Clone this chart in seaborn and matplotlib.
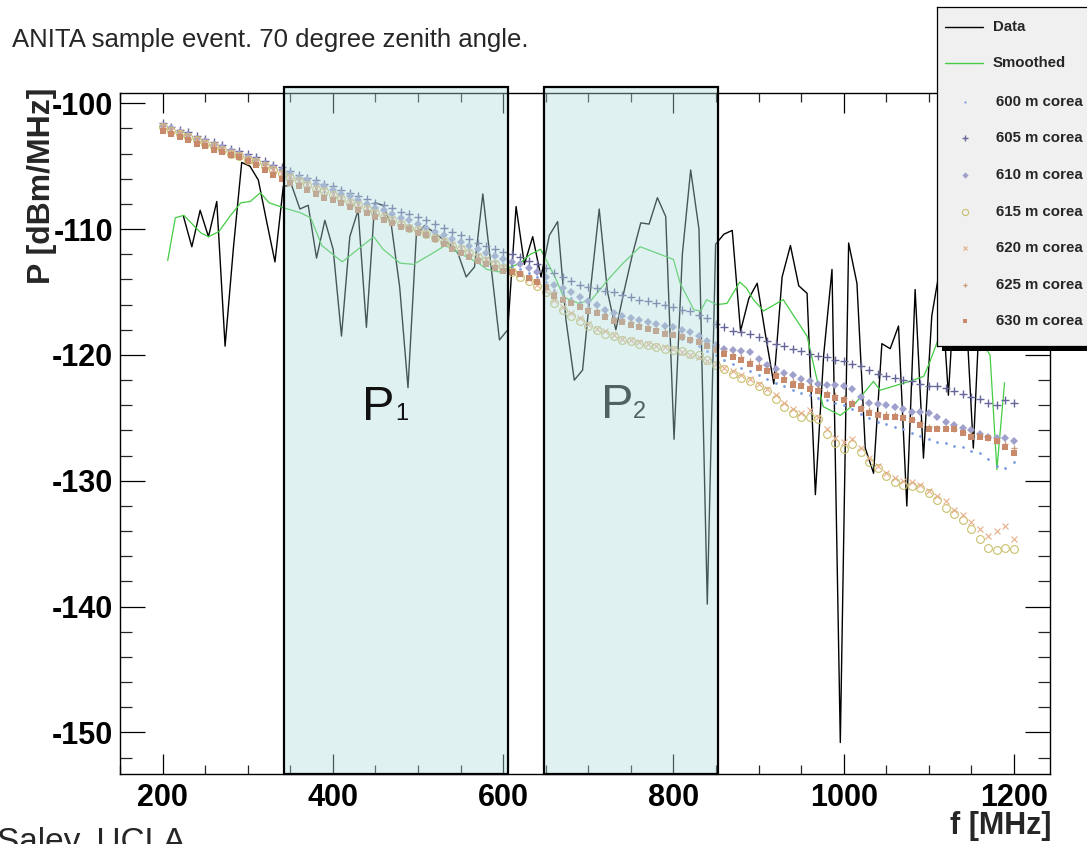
import numpy as np
import pandas as pd
import matplotlib
matplotlib.use("Agg")
import matplotlib.pyplot as plt
import seaborn as sns
from matplotlib.patches import Rectangle

# ---------------- data ----------------
title = "ANITA sample event. 70 degree zenith angle."
credit = "Saley, UCLA"
x_label = "f [MHz]"
y_label = "P [dBm/MHz]"

# measured spectrum: FFT bins (bin index * bin width)
bin_width = 9.765625
data_bins = np.arange(23, 123)
data_power = [
    -109.0, -111.4, -108.5, -110.6, -107.8, -119.3, -111.5, -104.7, -105.0, -106.1,
    -109.4, -112.6, -106.6, -106.5, -108.4, -108.1, -112.3, -109.3, -111.6, -118.5,
    -110.6, -108.5, -117.8, -107.9, -108.1, -109.7, -114.6, -122.6, -110.5, -109.7,
    -110.2, -110.7, -111.2, -111.9, -113.8, -113.0, -107.2, -113.0, -118.8, -118.0,
    -108.2, -112.8, -110.6, -113.8, -110.5, -109.4, -117.2, -122.0, -121.2, -114.5,
    -108.4, -115.0, -118.0, -114.9, -112.0, -109.5, -109.6, -107.5, -109.0, -126.7,
    -112.0, -105.3, -110.0, -139.8, -111.2, -110.4, -110.1, -118.1, -115.5, -114.3,
    -118.4, -122.3, -113.8, -111.3, -114.5, -115.1, -131.1, -120.0, -113.2, -150.8,
    -111.1, -114.3, -127.4, -129.4, -119.1, -119.5, -117.7, -132.0, -114.8, -128.2,
    -116.9, -113.0, -123.2, -112.0, -115.0, -127.4, -113.0, -118.0, -112.0, -119.0,
]

smooth_freq = [206, 215, 225, 245, 254, 266, 280, 292, 303, 315, 325, 342, 362, 374, 387,
               411, 424, 448, 459, 479, 495, 515, 532, 571, 581, 595, 620, 632, 644, 661,
               671, 689, 704, 726, 741, 761, 800, 808, 824, 832, 839, 851, 863, 878, 886,
               894, 906, 929, 957, 976, 996, 1013, 1035, 1043, 1082, 1094, 1101, 1113, 1137,
               1160, 1172, 1180, 1189]
smooth_power = [-112.5, -109.1, -108.9, -110.3, -110.6, -110.2, -108.9, -107.9, -107.8, -107.1,
                -107.9, -108.3, -108.7, -109.1, -111.3, -112.6, -111.9, -110.6, -111.6, -112.7,
                -112.8, -112.0, -111.3, -112.7, -113.2, -113.4, -112.7, -112.0, -111.6, -113.8,
                -115.4, -115.9, -115.6, -113.8, -112.7, -111.4, -112.4, -114.3, -116.4, -116.5,
                -115.6, -116.0, -115.9, -114.2, -114.7, -115.6, -116.5, -115.6, -118.5, -124.1,
                -124.8, -123.9, -122.1, -122.8, -122.0, -121.7, -120.6, -118.4, -118.0, -118.8,
                -120.0, -129.1, -122.2]

sim_freq = np.arange(200, 1201, 10)

sim_600 = [
    -101.9, -102.2, -102.4, -102.7, -102.9, -103.2, -103.4, -103.7, -103.9, -104.2,
    -104.4, -104.7, -105.0, -105.3, -105.6, -105.9, -106.2, -106.4, -106.7, -107.0,
    -107.2, -107.5, -107.8, -108.0, -108.3, -108.6, -108.9, -109.1, -109.4, -109.7,
    -110.0, -110.2, -110.5, -110.8, -111.1, -111.4, -111.7, -112.0, -112.3, -112.6,
    -112.8, -113.0, -113.2, -113.5, -113.8, -114.2, -114.8, -115.1, -115.5, -115.8,
    -116.1, -116.4, -116.7, -117.0, -117.2, -117.4, -117.6, -117.8, -118.0, -118.2,
    -118.4, -118.7, -119.0, -119.3, -119.7, -120.0, -120.4, -120.7, -121.0, -121.3,
    -121.6, -121.9, -122.2, -122.5, -122.8, -123.0, -123.2, -123.4, -123.6, -123.8,
    -124.0, -124.3, -124.7, -125.0, -125.3, -125.5, -125.7, -125.9, -126.2, -126.4,
    -126.7, -126.9, -127.0, -127.2, -127.3, -127.6, -127.8, -128.3, -128.8, -129.0, -128.5]

sim_605 = [
    -101.6, -101.9, -102.1, -102.3, -102.6, -102.8, -103.1, -103.3, -103.6, -103.8,
    -104.0, -104.3, -104.6, -104.9, -105.1, -105.4, -105.7, -105.9, -106.1, -106.4,
    -106.6, -106.9, -107.1, -107.4, -107.6, -107.9, -108.1, -108.3, -108.6, -108.8,
    -109.0, -109.3, -109.6, -109.9, -110.2, -110.5, -110.8, -111.1, -111.3, -111.6,
    -111.8, -112.0, -112.2, -112.5, -112.8, -113.1, -113.5, -113.8, -114.1, -114.4,
    -114.6, -114.7, -114.9, -115.0, -115.2, -115.4, -115.6, -115.7, -115.9, -116.0,
    -116.2, -116.4, -116.5, -116.8, -117.1, -117.5, -117.8, -118.1, -118.2, -118.3,
    -118.6, -118.9, -119.1, -119.3, -119.5, -119.7, -119.9, -120.1, -120.2, -120.4,
    -120.5, -120.7, -120.9, -121.2, -121.5, -121.7, -121.8, -122.0, -122.1, -122.3,
    -122.5, -122.5, -122.6, -122.9, -123.1, -123.3, -123.5, -123.8, -124.0, -123.6, -123.8]

sim_610 = [
    -101.8, -102.0, -102.3, -102.5, -102.8, -103.0, -103.3, -103.5, -103.8, -104.0,
    -104.3, -104.5, -104.8, -105.1, -105.3, -105.6, -105.9, -106.1, -106.4, -106.6,
    -106.9, -107.2, -107.4, -107.7, -108.0, -108.3, -108.5, -108.8, -109.1, -109.3,
    -109.6, -109.9, -110.2, -110.5, -110.8, -111.0, -111.3, -111.6, -111.9, -112.1,
    -112.4, -112.6, -112.8, -113.1, -113.4, -113.8, -114.4, -114.7, -115.0, -115.4,
    -115.7, -116.0, -116.4, -116.7, -116.9, -117.1, -117.2, -117.4, -117.5, -117.7,
    -117.8, -118.0, -118.2, -118.5, -118.9, -119.2, -119.5, -119.6, -119.7, -119.8,
    -120.3, -120.8, -121.1, -121.4, -121.6, -121.9, -122.1, -122.3, -122.4, -122.4,
    -122.5, -122.7, -123.3, -123.8, -123.9, -124.0, -124.1, -124.3, -124.5, -124.5,
    -124.6, -124.9, -125.3, -125.6, -125.8, -126.0, -126.3, -126.5, -126.6, -126.6, -126.8]

sim_615 = [
    -101.9, -102.2, -102.4, -102.7, -102.9, -103.2, -103.4, -103.7, -104.0, -104.2,
    -104.5, -104.7, -105.0, -105.3, -105.6, -105.9, -106.2, -106.5, -106.8, -107.0,
    -107.3, -107.6, -107.9, -108.1, -108.4, -108.7, -109.0, -109.3, -109.6, -109.9,
    -110.1, -110.4, -110.7, -111.0, -111.3, -111.6, -111.9, -112.2, -112.5, -112.8,
    -113.1, -113.4, -113.8, -114.1, -114.5, -115.0, -115.9, -116.4, -116.9, -117.3,
    -117.7, -118.0, -118.3, -118.5, -118.8, -118.9, -119.1, -119.2, -119.4, -119.5,
    -119.6, -119.7, -119.9, -120.0, -120.4, -120.8, -121.1, -121.5, -121.8, -122.1,
    -122.5, -122.9, -123.5, -124.1, -124.6, -124.9, -124.9, -125.1, -126.3, -127.0,
    -127.5, -127.1, -127.7, -128.5, -129.0, -129.6, -130.1, -130.3, -130.4, -130.6,
    -131.0, -131.5, -132.2, -132.6, -133.1, -133.8, -134.6, -135.3, -135.5, -135.3, -135.4]

sim_620 = [
    -101.8, -102.1, -102.3, -102.6, -102.8, -103.1, -103.3, -103.6, -103.9, -104.1,
    -104.4, -104.6, -104.9, -105.2, -105.5, -105.8, -106.1, -106.4, -106.7, -106.9,
    -107.2, -107.5, -107.8, -108.0, -108.3, -108.6, -108.9, -109.2, -109.5, -109.8,
    -110.0, -110.3, -110.6, -110.9, -111.2, -111.5, -111.8, -112.1, -112.4, -112.7,
    -113.0, -113.3, -113.6, -114.0, -114.4, -114.9, -115.6, -116.2, -116.7, -117.1,
    -117.5, -117.9, -118.1, -118.4, -118.7, -118.8, -119.0, -119.1, -119.3, -119.4,
    -119.5, -119.8, -120.0, -120.2, -120.5, -120.7, -121.0, -121.3, -121.6, -121.9,
    -122.3, -122.7, -123.2, -123.8, -124.3, -124.6, -124.4, -124.9, -125.9, -126.6,
    -126.9, -126.7, -127.4, -128.2, -128.8, -129.4, -129.8, -130.0, -130.1, -130.3,
    -130.8, -131.2, -131.6, -132.3, -132.7, -133.3, -133.8, -134.4, -134.0, -133.6, -134.6]

sim_625 = [
    -102.0, -102.3, -102.5, -102.8, -103.0, -103.3, -103.5, -103.8, -104.0, -104.2,
    -104.5, -104.8, -105.1, -105.5, -105.8, -106.1, -106.4, -106.7, -107.0, -107.3,
    -107.5, -107.8, -108.0, -108.3, -108.6, -108.8, -109.1, -109.4, -109.6, -109.9,
    -110.1, -110.4, -110.7, -111.0, -111.4, -111.7, -112.0, -112.3, -112.6, -112.9,
    -113.1, -113.3, -113.5, -113.8, -114.1, -114.5, -115.0, -115.4, -115.7, -116.0,
    -116.3, -116.5, -116.8, -117.1, -117.3, -117.4, -117.6, -117.8, -117.9, -118.1,
    -118.3, -118.5, -118.7, -118.9, -119.2, -119.4, -119.7, -120.0, -120.2, -120.5,
    -120.8, -121.1, -121.5, -121.8, -122.1, -122.3, -122.5, -122.7, -123.0, -123.2,
    -123.4, -123.7, -124.1, -124.4, -124.6, -124.7, -124.8, -124.9, -125.1, -125.4,
    -125.7, -125.8, -125.8, -125.9, -126.1, -126.3, -126.4, -126.6, -126.8, -127.1, -127.4]

sim_630 = [
    -102.2, -102.4, -102.7, -102.9, -103.2, -103.4, -103.7, -103.9, -104.1, -104.3,
    -104.6, -104.9, -105.3, -105.7, -106.0, -106.3, -106.6, -106.9, -107.2, -107.5,
    -107.7, -107.9, -108.2, -108.5, -108.7, -109.0, -109.3, -109.5, -109.8, -110.0,
    -110.3, -110.5, -110.8, -111.2, -111.6, -111.9, -112.2, -112.5, -112.8, -113.1,
    -113.3, -113.4, -113.6, -113.9, -114.2, -114.6, -115.3, -115.6, -115.9, -116.2,
    -116.5, -116.7, -117.0, -117.3, -117.4, -117.6, -117.8, -117.9, -118.1, -118.3,
    -118.4, -118.6, -118.8, -119.0, -119.3, -119.6, -119.9, -120.2, -120.4, -120.7,
    -121.0, -121.3, -121.7, -122.0, -122.4, -122.5, -122.7, -122.9, -123.2, -123.4,
    -123.6, -123.9, -124.3, -124.6, -124.8, -124.9, -124.9, -125.0, -125.2, -125.6,
    -125.9, -125.9, -125.9, -125.9, -126.2, -126.5, -126.5, -126.6, -126.8, -127.3, -127.8]

sim_labels = ["600 m corea", "605 m corea", "610 m corea", "615 m corea",
              "620 m corea", "625 m corea", "630 m corea"]
sim_values = [sim_600, sim_605, sim_610, sim_615, sim_620, sim_625, sim_630]

band_p1 = (342.5, 605.6)
band_p2 = (647.6, 853.0)

x_ticks = [200, 400, 600, 800, 1000, 1200]
y_ticks = [-150, -140, -130, -120, -110, -100]

# ---------------- styles ----------------
sim_styles = [
    dict(marker="o", ms=2.0, mfc="#7c9ce0", mec="#7c9ce0", mew=0.0),
    dict(marker="+", ms=5.8, mfc="#66669a", mec="#66669a", mew=1.0),
    dict(marker="D", ms=4.0, mfc="#a0a0cc", mec="#a0a0cc", mew=0.0),
    dict(marker="o", ms=5.6, mfc="none", mec="#c8c06c", mew=0.8),
    dict(marker="x", ms=3.8, mfc="#e6ae88", mec="#e6ae88", mew=0.8),
    dict(marker="+", ms=4.0, mfc="#c89a78", mec="#c89a78", mew=0.9),
    dict(marker="s", ms=3.7, mfc="#c88a6a", mec="#c88a6a", mew=0.0),
]
green = "#44cc44"

sns.set_theme(style="white")
plt.rcParams["font.family"] = ["Liberation Sans", "DejaVu Sans"]

W, H = 1087, 844
fig = plt.figure(figsize=(W / 100, H / 100), dpi=100)
fig.patch.set_facecolor("white")
ax = fig.add_axes([120 / W, 1 - 774 / H, (1050 - 120) / W, (774 - 93) / H])
ax.set_facecolor("white")


def fx(px):
    return 200 + (px - 162) / 0.8519


def fy(py):
    return -100 - (py - 103.3) / 12.58


data_freq = data_bins * bin_width
sns.lineplot(x=data_freq, y=data_power, ax=ax, color="black", linewidth=1.0,
             estimator=None, sort=False, legend=False, zorder=2)
sns.lineplot(x=smooth_freq, y=smooth_power, ax=ax, color=green, linewidth=0.9,
             estimator=None, sort=False, legend=False, zorder=2.5)
for vals, st in zip(sim_values, sim_styles):
    sns.lineplot(x=sim_freq, y=vals, ax=ax, estimator=None, sort=False, legend=False,
                 linestyle="none", marker=st["marker"], markersize=st["ms"],
                 markerfacecolor=st["mfc"], markeredgecolor=st["mec"],
                 markeredgewidth=st["mew"], color=st["mec"], zorder=3)

ax.set_xlim(150.7, 1242.4)
ax.set_ylim(-153.3, -99.18)
ax.set_xlabel("")
ax.set_ylabel("")

ax.set_xticks(x_ticks, labels=[str(v) for v in x_ticks], fontsize=22, fontweight="bold")
ax.set_yticks(y_ticks, labels=[str(v) for v in y_ticks], fontsize=22, fontweight="bold")
ax.set_xticks(np.arange(150, 1250, 50), minor=True)
ax.set_yticks(np.arange(-152, -99, 2), minor=True)
ax.tick_params(axis="x", which="major", direction="in", length=14.5, width=0.9,
               top=True, bottom=True, pad=6.5, colors="black")
ax.tick_params(axis="x", which="minor", direction="in", length=6.8, width=0.9,
               top=True, bottom=True)
ax.tick_params(axis="y", which="major", direction="in", length=18, width=0.9,
               left=True, right=True, pad=5, colors="black")
ax.tick_params(axis="y", which="minor", direction="in", length=8.5, width=0.9,
               left=True, right=True)
for s in ax.spines.values():
    s.set_color("black")
    s.set_linewidth(1.0)
    s.set_visible(True)

# P2 label (under the tinted overlay)
ax.text(fx(601), fy(418), "P", fontsize=35, color="#111111",
        ha="left", va="baseline", zorder=4)
ax.text(fx(633), fy(418), "2", fontsize=17, color="#111111",
        ha="left", va="baseline", zorder=4)

box_top = -98.7
for lo, hi in (band_p1, band_p2):
    ax.add_patch(Rectangle((lo, -153.3), hi - lo, box_top + 153.3,
                           facecolor=(177 / 255, 220 / 255, 220 / 255), alpha=0.4,
                           edgecolor="none", clip_on=False, zorder=5))
    ax.add_patch(Rectangle((lo, -153.3), hi - lo, box_top + 153.3,
                           facecolor="none", edgecolor="black", linewidth=1.6,
                           clip_on=False, zorder=6))

# P1 label (above overlay)
ax.text(fx(362), fy(420), "P", fontsize=35, color="#111111",
        ha="left", va="baseline", zorder=7)
ax.text(fx(395), fy(420), "1", fontsize=17, color="#111111",
        ha="left", va="baseline", zorder=7)

# figure texts
fig.text(12 / W, 1 - 47 / H, title, fontsize=18.5, ha="left", va="baseline")
fig.text(-3 / W, 1 - 851 / H, credit, fontsize=24, ha="left", va="baseline")
fig.text(1052 / W, 1 - 826 / H, x_label, fontsize=22, fontweight="bold",
         ha="right", va="center")
fig.text(42 / W, 1 - 88 / H, y_label, fontsize=23, fontweight="bold",
         rotation=90, ha="center", va="top")

# legend box (ROOT style with shadow)
shadow = Rectangle((942 / W, 1 - 351 / H), (1120 - 942) / W, (351 - 12) / H,
                   transform=fig.transFigure, facecolor="black", edgecolor="none",
                   zorder=20)
fig.patches.append(shadow)
lax = fig.add_axes([937 / W, 1 - 346 / H, (1110 - 937) / W, (346 - 7) / H])
lax.set_zorder(30)
lax.set_facecolor("#f0f0f0")
lax.set_xlim(937, 1110)
lax.set_ylim(346, 7)
lax.set_xticks([])
lax.set_yticks([])
for s in lax.spines.values():
    s.set_color("black")
    s.set_linewidth(0.9)

entry_y = [27.3, 63.3, 101.7, 138.3, 175.0, 212.3, 248.3, 285.0, 321.0]
lax.plot([945, 983], [entry_y[0]] * 2, color="black", lw=1.0)
lax.plot([945, 983], [entry_y[1]] * 2, color=green, lw=1.0)
lax.text(993, entry_y[0], "Data", fontsize=10.8, fontweight="bold", va="center", ha="left")
lax.text(993, entry_y[1], "Smoothed", fontsize=10.8, fontweight="bold", va="center", ha="left")
for yy, lab, st in zip(entry_y[2:], sim_labels, sim_styles):
    lax.plot([965], [yy], linestyle="none", marker=st["marker"], markersize=st["ms"] * 0.8,
             markerfacecolor=st["mfc"], markeredgecolor=st["mec"], markeredgewidth=st["mew"])
    lax.text(996, yy, lab, fontsize=10.8, fontweight="bold", va="center", ha="left")

fig.savefig("out.png", dpi=100)
